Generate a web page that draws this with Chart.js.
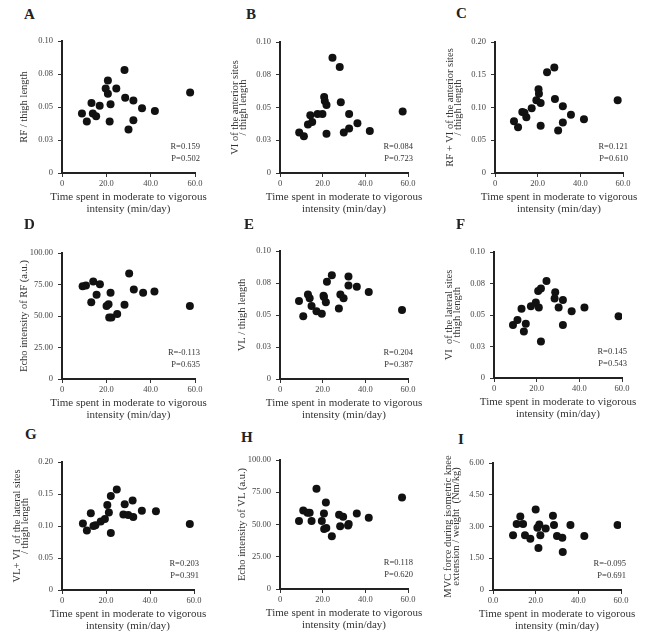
<!DOCTYPE html>
<html>
<head>
<meta charset="utf-8">
<script src="https://cdn.jsdelivr.net/npm/chart.js@4"></script>
<style>
  body { margin: 0; background: #fff; width: 650px; height: 641px; position: relative; overflow: hidden; }
  .panel { position: absolute; }
  .letter { position: absolute; font: bold 15px "Liberation Serif", serif; color: #222; }
</style>
</head>
<body>
<script>
// values, one x/y pair of arrays per panel
const aX = [9.0, 11.2, 13.3, 13.9, 15.4, 17.0, 19.7, 20.7, 20.7, 21.5, 21.9, 24.5, 28.2, 28.5, 30.0, 32.2, 32.2, 36.1, 41.9, 57.8];
const aY = [0.045, 0.039, 0.053, 0.045, 0.043, 0.051, 0.064, 0.070, 0.060, 0.039, 0.052, 0.064, 0.078, 0.057, 0.033, 0.055, 0.040, 0.049, 0.047, 0.061];

const bX = [9.0, 11.2, 13.1, 14.2, 15.1, 17.6, 19.9, 20.7, 21.0, 21.8, 21.8, 24.6, 28.0, 28.5, 29.9, 32.4, 32.4, 36.3, 42.1, 57.5];
const bY = [0.031, 0.028, 0.037, 0.044, 0.039, 0.045, 0.045, 0.058, 0.055, 0.052, 0.030, 0.088, 0.081, 0.054, 0.031, 0.034, 0.045, 0.038, 0.032, 0.047];

const cX = [8.9, 10.8, 12.8, 13.8, 14.7, 17.2, 19.4, 20.4, 20.6, 21.4, 21.4, 24.4, 27.8, 28.1, 29.6, 31.8, 31.8, 35.6, 41.7, 57.5];
const cY = [0.079, 0.070, 0.093, 0.092, 0.085, 0.099, 0.111, 0.128, 0.121, 0.107, 0.072, 0.154, 0.161, 0.113, 0.065, 0.102, 0.077, 0.089, 0.082, 0.111];

const dX = [9.3, 10.8, 13.2, 14.1, 15.6, 17.1, 20.1, 21.0, 21.3, 22.3, 21.9, 24.9, 28.2, 30.3, 32.4, 36.6, 41.7, 57.7];
const dY = [73.6, 74.2, 61.0, 77.3, 66.8, 75.2, 57.9, 59.4, 48.9, 48.9, 68.4, 51.5, 58.9, 83.7, 71.0, 68.4, 69.5, 57.9];

const eX = [8.9, 10.9, 13.1, 13.9, 14.8, 17.1, 19.6, 20.4, 20.6, 21.5, 22.0, 24.3, 27.6, 28.3, 29.8, 32.1, 32.1, 36.0, 41.6, 57.2];
const eY = [0.061, 0.049, 0.066, 0.063, 0.057, 0.053, 0.051, 0.065, 0.064, 0.060, 0.076, 0.081, 0.055, 0.066, 0.063, 0.080, 0.073, 0.072, 0.068, 0.054];

const fX = [8.9, 11.0, 12.9, 14.0, 14.9, 17.3, 19.6, 20.7, 21.0, 22.0, 22.0, 24.6, 28.7, 28.4, 30.3, 32.3, 32.3, 36.4, 42.4, 58.4];
const fY = [0.042, 0.046, 0.055, 0.037, 0.043, 0.057, 0.060, 0.069, 0.056, 0.071, 0.029, 0.077, 0.068, 0.063, 0.056, 0.062, 0.042, 0.053, 0.056, 0.049];

const gX = [9.5, 11.3, 13.1, 14.3, 15.2, 17.6, 19.5, 20.6, 21.3, 22.2, 22.2, 24.9, 27.9, 28.5, 30.1, 32.4, 32.1, 36.3, 42.7, 58.1];
const gY = [0.104, 0.093, 0.120, 0.100, 0.101, 0.107, 0.111, 0.133, 0.121, 0.147, 0.089, 0.157, 0.118, 0.134, 0.117, 0.114, 0.140, 0.124, 0.123, 0.103];

const hX = [8.9, 10.9, 12.9, 13.9, 14.8, 17.1, 19.6, 20.6, 20.7, 21.7, 21.5, 24.3, 27.7, 28.2, 29.6, 31.9, 32.2, 36.0, 41.6, 57.2];
const hY = [52.8, 60.9, 59.1, 59.1, 52.8, 77.7, 52.8, 58.5, 46.6, 47.2, 67.1, 40.9, 57.5, 48.7, 56.0, 49.2, 50.3, 58.5, 55.2, 71.0];

const iX = [9.4, 11.1, 12.8, 14.1, 15.0, 17.5, 20.0, 20.8, 21.3, 21.7, 22.2, 24.7, 28.1, 28.6, 30.0, 32.5, 32.7, 36.3, 42.8, 58.4];
const iY = [2.59, 3.12, 3.47, 3.12, 2.59, 2.42, 3.80, 2.94, 1.99, 3.10, 2.59, 2.91, 3.51, 3.07, 2.55, 2.47, 1.80, 3.07, 2.55, 3.07];

// tick labels as printed
const xTicks = ['0', '20.0', '40.0', '60.0'];
const xTicksI = ['0.0', '20.0', '40.0', '60.0'];
const ratioTicks = ['0', '0.03', '0.05', '0.08', '0.10'];
const sumTicks = ['0', '0.05', '0.10', '0.15', '0.20'];
const echoTicks = ['0', '25.00', '50.00', '75.00', '100.00'];
const forceTicks = ['0', '1.50', '3.00', '4.50', '6.00'];

const xTitle = ['Time spent in moderate to vigorous', 'intensity (min/day)'];

const panels = [
  { id: 'A', x: aX, y: aY, yMax: 0.10, yTicks: ratioTicks, xt: xTicks, title: ['RF / thigh length'], r: 'R=0.159', p: 'P=0.502' },
  { id: 'B', x: bX, y: bY, yMax: 0.10, yTicks: ratioTicks, xt: xTicks, title: ['VI of the anterior sites', '/ thigh length'], r: 'R=0.084', p: 'P=0.723' },
  { id: 'C', x: cX, y: cY, yMax: 0.20, yTicks: sumTicks, xt: xTicks, title: ['RF + VI of the anterior sites', '/ thigh length'], r: 'R=0.121', p: 'P=0.610' },
  { id: 'D', x: dX, y: dY, yMax: 100, yTicks: echoTicks, xt: xTicks, title: ['Echo intensity of RF (a.u.)'], r: 'R=-0.113', p: 'P=0.635' },
  { id: 'E', x: eX, y: eY, yMax: 0.10, yTicks: ratioTicks, xt: xTicks, title: ['VL / thigh length'], r: 'R=0.204', p: 'P=0.387' },
  { id: 'F', x: fX, y: fY, yMax: 0.10, yTicks: ratioTicks, xt: xTicks, title: ['VI  of the lateral sites', '/ thigh length'], r: 'R=0.145', p: 'P=0.543' },
  { id: 'G', x: gX, y: gY, yMax: 0.20, yTicks: sumTicks, xt: xTicks, title: ['VL+ VI  of the lateral sites', '/ thigh length'], r: 'R=0.203', p: 'P=0.391' },
  { id: 'H', x: hX, y: hY, yMax: 100, yTicks: echoTicks, xt: xTicks, title: ['Echo intensity of VL (a.u.)'], r: 'R=0.118', p: 'P=0.620' },
  { id: 'I', x: iX, y: iY, yMax: 6, yTicks: forceTicks, xt: xTicksI, title: ['MVC force during isometric knee', 'extension / weight  (Nm/kg)'], r: 'R=-0.095', p: 'P=0.691' }
];

// plot area boxes [left, top, width, height] and letter positions
const boxes = [
  [62, 41, 133, 132], [280, 42, 128, 131], [495, 42, 128, 131],
  [62, 253, 133, 126], [280, 251, 128, 128], [494, 252, 128, 126],
  [62, 462, 132, 128], [280, 460, 128, 129], [493, 463, 128, 127]
];
const letterPos = [
  [24, 6], [246, 6], [456, 5],
  [24, 216], [244, 216], [456, 216],
  [25, 426], [241, 429], [458, 431]
];

const YW = 52, PT = 14, PR = 32, XH = 46;
const serif = '"Liberation Serif", "Times New Roman", serif';

// R/P box and the two-line x title (drawn by hand so it is not squeezed to the axis width)
const panelText = {
  id: 'panelText',
  afterDraw(chart, args, opts) {
    const { ctx, chartArea } = chart;
    ctx.save();
    ctx.font = '8.5px ' + serif;
    ctx.fillStyle = '#333';
    ctx.textAlign = 'right';
    ctx.textBaseline = 'middle';
    ctx.fillText(opts.r, chartArea.right + 5, chartArea.bottom - 26);
    ctx.fillText(opts.p, chartArea.right + 5, chartArea.bottom - 14);
    ctx.font = '11px ' + serif;
    ctx.textAlign = 'center';
    const cx = (chartArea.left + chartArea.right) / 2;
    xTitle.forEach((line, i) => {
      ctx.fillText(line, cx, chartArea.bottom + 24 + i * 12.6);
    });
    ctx.restore();
  }
};

panels.forEach((pn, k) => {
  const [l, t, w, h] = boxes[k];
  const wrap = document.createElement('div');
  wrap.className = 'panel';
  wrap.style.left = (l - YW) + 'px';
  wrap.style.top = (t - PT) + 'px';
  wrap.style.width = (YW + w + PR) + 'px';
  wrap.style.height = (PT + h + XH) + 'px';
  const cv = document.createElement('canvas');
  wrap.appendChild(cv);
  document.body.appendChild(wrap);

  const lt = document.createElement('div');
  lt.className = 'letter';
  lt.textContent = pn.id;
  lt.style.left = letterPos[k][0] + 'px';
  lt.style.top = letterPos[k][1] + 'px';
  document.body.appendChild(lt);

  const axisGrid = { display: true, drawOnChartArea: false, drawTicks: true, tickLength: 4, color: '#333', lineWidth: 1 };
  const axisBorder = { display: true, color: '#222', width: 2 };

  new Chart(cv.getContext('2d'), {
    type: 'scatter',
    data: {
      datasets: [{
        data: pn.x.map((v, i) => ({ x: v, y: pn.y[i] })),
        backgroundColor: '#111',
        borderWidth: 0,
        pointRadius: 4,
        pointHoverRadius: 4
      }]
    },
    options: {
      responsive: true,
      maintainAspectRatio: false,
      animation: false,
      layout: { padding: { top: PT, right: PR, bottom: 0, left: 0 } },
      plugins: {
        legend: { display: false },
        tooltip: { enabled: false },
        panelText: { r: pn.r, p: pn.p }
      },
      scales: {
        x: {
          type: 'linear',
          min: 0,
          max: 60,
          grid: axisGrid,
          border: axisBorder,
          afterFit: (s) => { s.height = XH; },
          ticks: {
            stepSize: 20,
            padding: 2,
            color: '#444',
            font: { family: serif, size: 8.5 },
            maxRotation: 0,
            callback: (v, i) => pn.xt[i]
          },
          title: { display: false }
        },
        y: {
          type: 'linear',
          min: 0,
          max: pn.yMax,
          grid: axisGrid,
          border: axisBorder,
          afterFit: (s) => { s.width = YW; },
          ticks: {
            stepSize: pn.yMax / 4,
            padding: 5,
            color: '#444',
            font: { family: serif, size: 8.5 },
            callback: (v, i) => pn.yTicks[i]
          },
          title: {
            display: true,
            text: pn.title,
            color: '#333',
            font: { family: serif, size: 10.5, lineHeight: 0.8 },
            padding: { top: pn.title.length > 1 ? 3 : 10, bottom: 0 }
          }
        }
      }
    },
    plugins: [panelText]
  });
});
</script>
</body>
</html>
